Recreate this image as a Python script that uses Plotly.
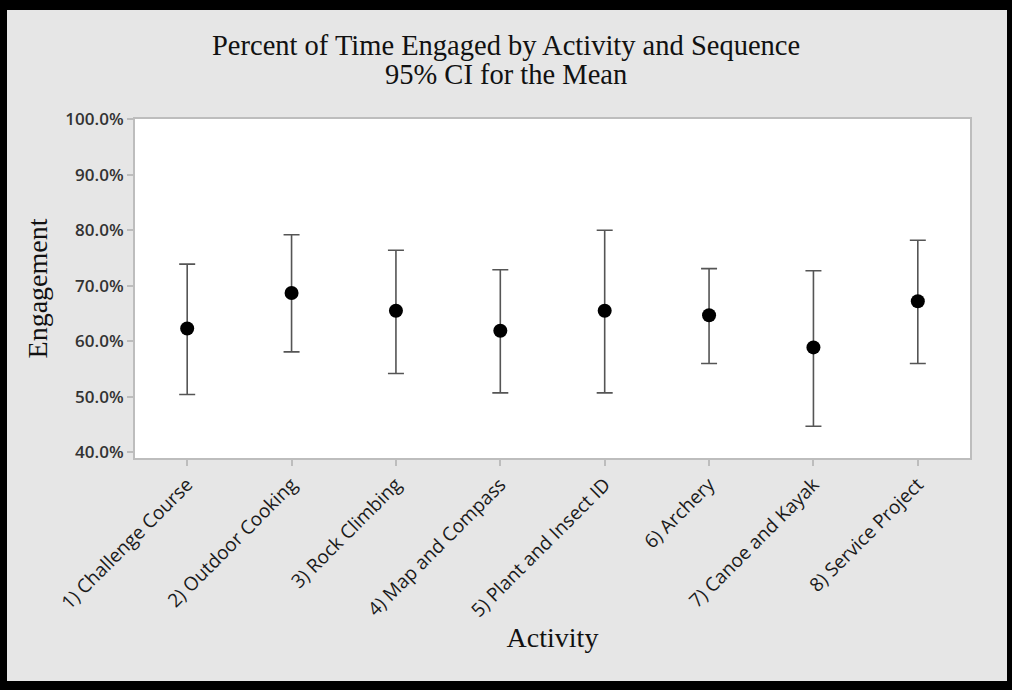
import plotly.graph_objects as go

activities = ["1) Challenge Course", "2) Outdoor Cooking", "3) Rock Climbing", "4) Map and Compass",
              "5) Plant and Insect ID", "6) Archery", "7) Canoe and Kayak", "8) Service Project"]
mean = [62.3, 68.7, 65.5, 61.9, 65.5, 64.7, 58.9, 67.2]
upper = [73.9, 79.2, 76.4, 72.9, 80.0, 73.1, 72.7, 78.2]
lower = [50.4, 58.1, 54.2, 50.7, 50.7, 56.0, 44.7, 56.0]
yticks = [40, 50, 60, 70, 80, 90, 100]
yticktext = [f"{v:.1f}%" for v in yticks]
title_lines = ["Percent of Time Engaged by Activity and Sequence", "95% CI for the Mean"]

W, H = 1012, 690
L, R, T, B = 135, 42, 119, 232
pw, ph = W - L - R, H - T - B

def px_x(p):
    return (p - L) / pw

def px_y(p):
    return (H - B - p) / ph

fig = go.Figure()
fig.add_trace(go.Scatter(
    x=activities, y=mean, mode="markers",
    marker=dict(color="black", size=14, symbol="circle"),
    error_y=dict(type="data", symmetric=False,
                 array=[u - m for u, m in zip(upper, mean)],
                 arrayminus=[m - l for m, l in zip(mean, lower)],
                 color="#555555", thickness=1.6, width=8),
    showlegend=False,
))

# black frame around the grey page
frame = [(0, 0, W, 10), (0, 681, W, H), (0, 0, 7, H), (1007, 0, W, H)]
shapes = []
for x0, y0, x1, y1 in frame:
    shapes.append(dict(type="rect", xref="paper", yref="paper",
                       x0=px_x(x0), x1=px_x(x1), y0=px_y(y1), y1=px_y(y0),
                       fillcolor="black", line=dict(width=0), layer="above"))

title_font = dict(family="Liberation Serif", size=28.5, color="#111111")
annotations = [
    dict(text=title_lines[0], xref="paper", yref="paper", x=px_x(506), y=px_y(46),
         xanchor="center", yanchor="middle", showarrow=False, font=title_font),
    dict(text=title_lines[1], xref="paper", yref="paper", x=px_x(506), y=px_y(75),
         xanchor="center", yanchor="middle", showarrow=False, font=title_font),
]

fig.update_layout(
    width=W, height=H,
    margin=dict(l=L, r=R, t=T, b=B, autoexpand=False),
    paper_bgcolor="#e6e6e6", plot_bgcolor="white",
    shapes=shapes, annotations=annotations,
    xaxis=dict(
        type="category", range=[-0.5, 7.5], tickangle=-45,
        tickfont=dict(family="Open Sans", size=19, color="#1a1a1a"),
        showline=True, linecolor="#bdbdbd", linewidth=2, mirror=True,
        ticks="outside", ticklen=6, tickcolor="#bdbdbd", tickwidth=1.5,
        showgrid=False, zeroline=False,
        title=dict(text="Activity", standoff=5,
                   font=dict(family="Liberation Serif", size=28, color="#111111")),
    ),
    yaxis=dict(
        range=[38.97, 100.05], tickvals=yticks, ticktext=yticktext,
        tickfont=dict(family="Open Sans", size=17, color="#333333", weight=600),
        showline=True, linecolor="#bdbdbd", linewidth=2, mirror=True,
        ticks="outside", ticklen=6, tickcolor="#bdbdbd", tickwidth=1.5,
        showgrid=False, zeroline=False,
        title=dict(text="Engagement", standoff=10,
                   font=dict(family="Liberation Serif", size=28, color="#111111")),
    ),
)

fig.write_html("out.html")
